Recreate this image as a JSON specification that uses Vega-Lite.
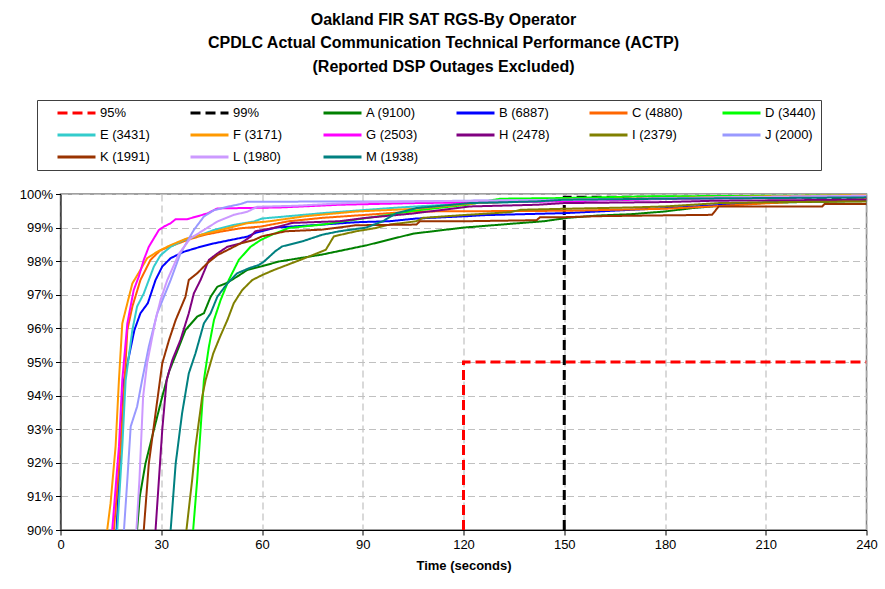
{
"$schema": "https://vega.github.io/schema/vega-lite/v6.json",
"width": 806, "height": 336,
"autosize": {"type": "none"},
"padding": {"left": 60.5, "top": 194, "right": 18.5, "bottom": 59},
"background": "white",
"title": {"text": ["Oakland FIR SAT RGS-By Operator", "CPDLC Actual Communication Technical Performance (ACTP)", "(Reported DSP Outages Excluded)"], "font": "Liberation Sans", "fontSize": 16, "fontWeight": "bold", "lineHeight": 23.5, "anchor": "middle", "dx": -20, "offset": 25, "color": "black"},
"config": {
  "view": {"stroke": "#808080", "strokeWidth": 1.5},
  "font": "Liberation Sans",
  "legend": {"orient": "none", "legendX": -23.5, "legendY": -94, "direction": "horizontal", "columns": 6, "title": null, "symbolType": "stroke", "symbolSize": 1444, "symbolStrokeWidth": 3, "symbolOffset": 14, "clipHeight": 16, "labelFont": "Liberation Sans", "labelFontSize": 13, "labelColor": "black", "labelOffset": 3, "columnPadding": 22, "rowPadding": 6, "padding": 5, "strokeColor": "#404040", "fillColor": "white", "labelLimit": 200, "gridAlign": "all"}
},
"datasets": {"d": [
{"s":"95%","t":120,"p":90},{"s":"95%","t":120,"p":95},{"s":"95%","t":240,"p":95},
{"s":"99%","t":150,"p":90},{"s":"99%","t":150,"p":99.9},{"s":"99%","t":240,"p":99.9},
{"s":"A (9100)","t":22.8,"p":90},{"s":"A (9100)","t":23.6,"p":90.99},{"s":"A (9100)","t":25.3,"p":91.98},{"s":"A (9100)","t":27.8,"p":92.98},{"s":"A (9100)","t":30.3,"p":93.97},{"s":"A (9100)","t":32.3,"p":94.71},{"s":"A (9100)","t":35.3,"p":95.46},{"s":"A (9100)","t":37.2,"p":95.95},{"s":"A (9100)","t":40.7,"p":96.35},{"s":"A (9100)","t":42.7,"p":96.45},{"s":"A (9100)","t":44.7,"p":96.94},{"s":"A (9100)","t":46.7,"p":97.24},{"s":"A (9100)","t":49.2,"p":97.34},{"s":"A (9100)","t":52.6,"p":97.54},{"s":"A (9100)","t":55.6,"p":97.74},{"s":"A (9100)","t":59.6,"p":97.84},{"s":"A (9100)","t":65,"p":97.99},{"s":"A (9100)","t":78,"p":98.2},{"s":"A (9100)","t":91,"p":98.47},{"s":"A (9100)","t":105,"p":98.82},{"s":"A (9100)","t":120,"p":99.0},{"s":"A (9100)","t":135,"p":99.12},{"s":"A (9100)","t":144,"p":99.19},{"s":"A (9100)","t":151,"p":99.29},{"s":"A (9100)","t":160,"p":99.36},{"s":"A (9100)","t":170,"p":99.4},{"s":"A (9100)","t":180,"p":99.48},{"s":"A (9100)","t":188,"p":99.58},{"s":"A (9100)","t":194,"p":99.63},{"s":"A (9100)","t":205,"p":99.72},{"s":"A (9100)","t":220,"p":99.76},{"s":"A (9100)","t":240,"p":99.79},
{"s":"B (6887)","t":16.7,"p":90},{"s":"B (6887)","t":17.9,"p":92.48},{"s":"B (6887)","t":18.9,"p":94.46},{"s":"B (6887)","t":22,"p":95.95},{"s":"B (6887)","t":23.8,"p":96.45},{"s":"B (6887)","t":26,"p":96.75},{"s":"B (6887)","t":28.3,"p":97.44},{"s":"B (6887)","t":30.3,"p":97.84},{"s":"B (6887)","t":32.8,"p":98.09},{"s":"B (6887)","t":36.7,"p":98.28},{"s":"B (6887)","t":41.7,"p":98.43},{"s":"B (6887)","t":45.7,"p":98.53},{"s":"B (6887)","t":50.6,"p":98.63},{"s":"B (6887)","t":55.6,"p":98.73},{"s":"B (6887)","t":58,"p":98.84},{"s":"B (6887)","t":64,"p":99.0},{"s":"B (6887)","t":78,"p":99.09},{"s":"B (6887)","t":88,"p":99.16},{"s":"B (6887)","t":98,"p":99.19},{"s":"B (6887)","t":106,"p":99.27},{"s":"B (6887)","t":121,"p":99.34},{"s":"B (6887)","t":126,"p":99.37},{"s":"B (6887)","t":150,"p":99.43},{"s":"B (6887)","t":180,"p":99.58},{"s":"B (6887)","t":210,"p":99.75},{"s":"B (6887)","t":240,"p":99.85},
{"s":"C (4880)","t":15.9,"p":90},{"s":"C (4880)","t":17.9,"p":92.48},{"s":"C (4880)","t":19.1,"p":94.46},{"s":"C (4880)","t":19.9,"p":95.95},{"s":"C (4880)","t":21.4,"p":96.65},{"s":"C (4880)","t":23.8,"p":97.44},{"s":"C (4880)","t":26.8,"p":98.04},{"s":"C (4880)","t":29.8,"p":98.33},{"s":"C (4880)","t":33.8,"p":98.48},{"s":"C (4880)","t":37.7,"p":98.63},{"s":"C (4880)","t":42.7,"p":98.78},{"s":"C (4880)","t":47.7,"p":98.88},{"s":"C (4880)","t":53.6,"p":98.98},{"s":"C (4880)","t":59.6,"p":99.03},{"s":"C (4880)","t":68,"p":99.19},{"s":"C (4880)","t":78,"p":99.29},{"s":"C (4880)","t":91,"p":99.38},{"s":"C (4880)","t":105,"p":99.48},{"s":"C (4880)","t":150,"p":99.5},{"s":"C (4880)","t":165,"p":99.53},{"s":"C (4880)","t":180,"p":99.56},{"s":"C (4880)","t":194,"p":99.63},{"s":"C (4880)","t":215,"p":99.75},{"s":"C (4880)","t":240,"p":99.85},
{"s":"D (3440)","t":39.5,"p":90},{"s":"D (3440)","t":40.7,"p":91.49},{"s":"D (3440)","t":41.7,"p":92.98},{"s":"D (3440)","t":42.7,"p":94.46},{"s":"D (3440)","t":44.2,"p":95.46},{"s":"D (3440)","t":45.7,"p":96.25},{"s":"D (3440)","t":47.7,"p":96.85},{"s":"D (3440)","t":50.1,"p":97.44},{"s":"D (3440)","t":53.1,"p":98.04},{"s":"D (3440)","t":56.6,"p":98.43},{"s":"D (3440)","t":59.6,"p":98.63},{"s":"D (3440)","t":63,"p":98.79},{"s":"D (3440)","t":68,"p":98.99},{"s":"D (3440)","t":78,"p":99.09},{"s":"D (3440)","t":88,"p":99.24},{"s":"D (3440)","t":98,"p":99.38},{"s":"D (3440)","t":105,"p":99.5},{"s":"D (3440)","t":121,"p":99.68},{"s":"D (3440)","t":131,"p":99.86},{"s":"D (3440)","t":150,"p":99.88},{"s":"D (3440)","t":175,"p":99.93},{"s":"D (3440)","t":240,"p":99.96},
{"s":"E (3431)","t":16.9,"p":90},{"s":"E (3431)","t":18.4,"p":92.48},{"s":"E (3431)","t":19.4,"p":94.46},{"s":"E (3431)","t":21.4,"p":95.95},{"s":"E (3431)","t":22.8,"p":96.65},{"s":"E (3431)","t":24.8,"p":97.04},{"s":"E (3431)","t":27.8,"p":97.84},{"s":"E (3431)","t":29.8,"p":98.18},{"s":"E (3431)","t":32.8,"p":98.43},{"s":"E (3431)","t":36.7,"p":98.63},{"s":"E (3431)","t":41.7,"p":98.78},{"s":"E (3431)","t":45.7,"p":98.93},{"s":"E (3431)","t":51.6,"p":99.08},{"s":"E (3431)","t":57.6,"p":99.18},{"s":"E (3431)","t":60,"p":99.27},{"s":"E (3431)","t":78,"p":99.43},{"s":"E (3431)","t":98,"p":99.58},{"s":"E (3431)","t":106,"p":99.63},{"s":"E (3431)","t":124,"p":99.73},{"s":"E (3431)","t":150,"p":99.8},{"s":"E (3431)","t":200,"p":99.9},{"s":"E (3431)","t":240,"p":99.97},
{"s":"F (3171)","t":13.9,"p":90},{"s":"F (3171)","t":14.9,"p":90.79},{"s":"F (3171)","t":16.4,"p":92.48},{"s":"F (3171)","t":17.4,"p":94.46},{"s":"F (3171)","t":18.4,"p":96.15},{"s":"F (3171)","t":19.4,"p":96.55},{"s":"F (3171)","t":21.4,"p":97.34},{"s":"F (3171)","t":23.8,"p":97.74},{"s":"F (3171)","t":25.8,"p":98.09},{"s":"F (3171)","t":28.8,"p":98.28},{"s":"F (3171)","t":32.8,"p":98.48},{"s":"F (3171)","t":37.7,"p":98.68},{"s":"F (3171)","t":43.7,"p":98.83},{"s":"F (3171)","t":49.7,"p":98.98},{"s":"F (3171)","t":55.6,"p":99.13},{"s":"F (3171)","t":61.6,"p":99.18},{"s":"F (3171)","t":73,"p":99.34},{"s":"F (3171)","t":88,"p":99.48},{"s":"F (3171)","t":106,"p":99.56},{"s":"F (3171)","t":124,"p":99.73},{"s":"F (3171)","t":150,"p":99.83},{"s":"F (3171)","t":180,"p":99.88},{"s":"F (3171)","t":210,"p":99.93},{"s":"F (3171)","t":240,"p":99.97},
{"s":"G (2503)","t":15.4,"p":90},{"s":"G (2503)","t":17.4,"p":92.48},{"s":"G (2503)","t":18.4,"p":94.46},{"s":"G (2503)","t":19.9,"p":96.15},{"s":"G (2503)","t":21.8,"p":97.14},{"s":"G (2503)","t":23.3,"p":97.54},{"s":"G (2503)","t":24.8,"p":98.04},{"s":"G (2503)","t":26.3,"p":98.43},{"s":"G (2503)","t":29.3,"p":98.93},{"s":"G (2503)","t":30.8,"p":99.03},{"s":"G (2503)","t":32.8,"p":99.13},{"s":"G (2503)","t":34.3,"p":99.25},{"s":"G (2503)","t":37.7,"p":99.25},{"s":"G (2503)","t":43.7,"p":99.42},{"s":"G (2503)","t":46.7,"p":99.57},{"s":"G (2503)","t":65.5,"p":99.6},{"s":"G (2503)","t":83,"p":99.68},{"s":"G (2503)","t":106,"p":99.73},{"s":"G (2503)","t":150,"p":99.78},{"s":"G (2503)","t":180,"p":99.85},{"s":"G (2503)","t":240,"p":99.92},
{"s":"H (2478)","t":28.3,"p":90},{"s":"H (2478)","t":29.3,"p":91.49},{"s":"H (2478)","t":30.3,"p":92.98},{"s":"H (2478)","t":31.6,"p":94.46},{"s":"H (2478)","t":33.3,"p":95.06},{"s":"H (2478)","t":35.7,"p":95.65},{"s":"H (2478)","t":38.2,"p":96.45},{"s":"H (2478)","t":39.7,"p":97.04},{"s":"H (2478)","t":41.7,"p":97.44},{"s":"H (2478)","t":44.2,"p":98.04},{"s":"H (2478)","t":46.7,"p":98.23},{"s":"H (2478)","t":49.7,"p":98.43},{"s":"H (2478)","t":53.6,"p":98.53},{"s":"H (2478)","t":56.6,"p":98.73},{"s":"H (2478)","t":58,"p":98.89},{"s":"H (2478)","t":64,"p":99.0},{"s":"H (2478)","t":69,"p":99.14},{"s":"H (2478)","t":83,"p":99.19},{"s":"H (2478)","t":91,"p":99.29},{"s":"H (2478)","t":105,"p":99.42},{"s":"H (2478)","t":122,"p":99.63},{"s":"H (2478)","t":142,"p":99.68},{"s":"H (2478)","t":150,"p":99.73},{"s":"H (2478)","t":180,"p":99.76},{"s":"H (2478)","t":195,"p":99.8},{"s":"H (2478)","t":240,"p":99.83},
{"s":"I (2379)","t":37.5,"p":90},{"s":"I (2379)","t":39.2,"p":91.49},{"s":"I (2379)","t":40.2,"p":92.48},{"s":"I (2379)","t":42.2,"p":93.97},{"s":"I (2379)","t":43.2,"p":94.46},{"s":"I (2379)","t":45.5,"p":95.26},{"s":"I (2379)","t":47.5,"p":95.75},{"s":"I (2379)","t":49.7,"p":96.25},{"s":"I (2379)","t":51.6,"p":96.75},{"s":"I (2379)","t":54.1,"p":97.14},{"s":"I (2379)","t":57.1,"p":97.44},{"s":"I (2379)","t":60.1,"p":97.59},{"s":"I (2379)","t":63.6,"p":97.74},{"s":"I (2379)","t":73,"p":98.1},{"s":"I (2379)","t":79,"p":98.34},{"s":"I (2379)","t":81.4,"p":98.74},{"s":"I (2379)","t":88,"p":98.89},{"s":"I (2379)","t":94,"p":98.99},{"s":"I (2379)","t":98,"p":99.09},{"s":"I (2379)","t":106,"p":99.19},{"s":"I (2379)","t":108,"p":99.29},{"s":"I (2379)","t":121,"p":99.38},{"s":"I (2379)","t":134,"p":99.46},{"s":"I (2379)","t":137,"p":99.53},{"s":"I (2379)","t":150,"p":99.56},{"s":"I (2379)","t":170,"p":99.6},{"s":"I (2379)","t":180,"p":99.63},{"s":"I (2379)","t":196,"p":99.73},{"s":"I (2379)","t":215,"p":99.76},{"s":"I (2379)","t":240,"p":99.78},
{"s":"J (2000)","t":18.9,"p":90},{"s":"J (2000)","t":19.9,"p":91.49},{"s":"J (2000)","t":20.9,"p":93.08},{"s":"J (2000)","t":22.8,"p":93.67},{"s":"J (2000)","t":24.3,"p":94.46},{"s":"J (2000)","t":26.3,"p":95.46},{"s":"J (2000)","t":28.8,"p":96.45},{"s":"J (2000)","t":32.8,"p":97.44},{"s":"J (2000)","t":35.7,"p":98.23},{"s":"J (2000)","t":39.7,"p":98.93},{"s":"J (2000)","t":42.7,"p":99.33},{"s":"J (2000)","t":45.7,"p":99.52},{"s":"J (2000)","t":49.7,"p":99.62},{"s":"J (2000)","t":53.6,"p":99.7},{"s":"J (2000)","t":55.6,"p":99.77},{"s":"J (2000)","t":105,"p":99.78},{"s":"J (2000)","t":120,"p":99.8},{"s":"J (2000)","t":150,"p":99.83},{"s":"J (2000)","t":200,"p":99.9},{"s":"J (2000)","t":240,"p":99.95},
{"s":"K (1991)","t":24.8,"p":90},{"s":"K (1991)","t":26.3,"p":91.98},{"s":"K (1991)","t":28.3,"p":93.47},{"s":"K (1991)","t":30.3,"p":94.96},{"s":"K (1991)","t":32.3,"p":95.65},{"s":"K (1991)","t":34.3,"p":96.25},{"s":"K (1991)","t":37.2,"p":96.94},{"s":"K (1991)","t":38.2,"p":97.44},{"s":"K (1991)","t":40.7,"p":97.64},{"s":"K (1991)","t":43.7,"p":97.94},{"s":"K (1991)","t":46.7,"p":98.18},{"s":"K (1991)","t":49.7,"p":98.33},{"s":"K (1991)","t":53.6,"p":98.53},{"s":"K (1991)","t":57.6,"p":98.63},{"s":"K (1991)","t":60,"p":98.74},{"s":"K (1991)","t":67,"p":98.89},{"s":"K (1991)","t":78,"p":98.94},{"s":"K (1991)","t":88,"p":99.07},{"s":"K (1991)","t":106,"p":99.09},{"s":"K (1991)","t":107,"p":99.19},{"s":"K (1991)","t":121,"p":99.19},{"s":"K (1991)","t":141.8,"p":99.22},{"s":"K (1991)","t":142.8,"p":99.31},{"s":"K (1991)","t":150,"p":99.31},{"s":"K (1991)","t":160,"p":99.34},{"s":"K (1991)","t":176,"p":99.36},{"s":"K (1991)","t":194,"p":99.38},{"s":"K (1991)","t":196,"p":99.63},{"s":"K (1991)","t":226.8,"p":99.63},{"s":"K (1991)","t":227.5,"p":99.7},{"s":"K (1991)","t":240,"p":99.7},
{"s":"L (1980)","t":22.6,"p":90},{"s":"L (1980)","t":23.5,"p":91.49},{"s":"L (1980)","t":24.6,"p":93.97},{"s":"L (1980)","t":25.8,"p":94.96},{"s":"L (1980)","t":28.3,"p":96.25},{"s":"L (1980)","t":29.8,"p":96.85},{"s":"L (1980)","t":31.8,"p":97.44},{"s":"L (1980)","t":35.3,"p":98.23},{"s":"L (1980)","t":38.7,"p":98.68},{"s":"L (1980)","t":42.7,"p":98.93},{"s":"L (1980)","t":46.7,"p":99.18},{"s":"L (1980)","t":51.6,"p":99.38},{"s":"L (1980)","t":55.6,"p":99.47},{"s":"L (1980)","t":58.6,"p":99.62},{"s":"L (1980)","t":70,"p":99.65},{"s":"L (1980)","t":91,"p":99.76},{"s":"L (1980)","t":105,"p":99.78},{"s":"L (1980)","t":150,"p":99.82},{"s":"L (1980)","t":200,"p":99.9},{"s":"L (1980)","t":240,"p":99.95},
{"s":"M (1938)","t":32.8,"p":90},{"s":"M (1938)","t":34.3,"p":91.98},{"s":"M (1938)","t":36.2,"p":93.47},{"s":"M (1938)","t":38.2,"p":94.66},{"s":"M (1938)","t":40.2,"p":95.26},{"s":"M (1938)","t":42.7,"p":96.15},{"s":"M (1938)","t":44.7,"p":96.45},{"s":"M (1938)","t":46.7,"p":96.94},{"s":"M (1938)","t":49.7,"p":97.34},{"s":"M (1938)","t":52.6,"p":97.64},{"s":"M (1938)","t":56.1,"p":97.79},{"s":"M (1938)","t":59.1,"p":97.89},{"s":"M (1938)","t":60.6,"p":97.99},{"s":"M (1938)","t":64,"p":98.3},{"s":"M (1938)","t":66,"p":98.44},{"s":"M (1938)","t":72,"p":98.59},{"s":"M (1938)","t":78,"p":98.79},{"s":"M (1938)","t":83,"p":98.89},{"s":"M (1938)","t":91,"p":99.0},{"s":"M (1938)","t":96,"p":99.19},{"s":"M (1938)","t":100,"p":99.43},{"s":"M (1938)","t":106,"p":99.58},{"s":"M (1938)","t":122,"p":99.73},{"s":"M (1938)","t":142,"p":99.78},{"s":"M (1938)","t":150,"p":99.83},{"s":"M (1938)","t":180,"p":99.86},{"s":"M (1938)","t":240,"p":99.9}
]},
"data": {"name": "d"},
"encoding": {
  "x": {"field": "t", "type": "quantitative", "scale": {"domain": [0, 240], "nice": false}, "axis": {"values": [0, 30, 60, 90, 120, 150, 180, 210, 240], "title": "Time (seconds)", "titleFont": "Liberation Sans", "titleFontSize": 13, "titleFontWeight": "bold", "titleColor": "black", "titlePadding": 8, "labelFont": "Liberation Sans", "labelFontSize": 13, "labelColor": "black", "labelPadding": 3, "labelFlush": false, "domainColor": "black", "tickColor": "black", "tickSize": 5, "grid": true, "gridColor": "#c0c0c0", "gridDash": [7, 4], "gridWidth": 1.2}},
  "y": {"field": "p", "type": "quantitative", "scale": {"domain": [90, 100], "nice": false}, "axis": {"values": [90, 91, 92, 93, 94, 95, 96, 97, 98, 99, 100], "labelExpr": "datum.value + '%'", "title": null, "labelFont": "Liberation Sans", "labelFontSize": 13, "labelColor": "black", "labelPadding": 3, "labelFlush": false, "domainColor": "black", "tickColor": "black", "tickSize": 5, "grid": true, "gridColor": "#c0c0c0", "gridDash": [7, 4], "gridWidth": 1.2}},
  "color": {"field": "s", "type": "nominal", "scale": {"domain": ["95%", "99%", "A (9100)", "B (6887)", "C (4880)", "D (3440)", "E (3431)", "F (3171)", "G (2503)", "H (2478)", "I (2379)", "J (2000)", "K (1991)", "L (1980)", "M (1938)"], "range": ["#ff0000", "#000000", "#008000", "#0000ff", "#ff6600", "#00ff00", "#33cccc", "#ff9900", "#ff00ff", "#800080", "#808000", "#9999ff", "#993300", "#cc99ff", "#008080"]}},
  "strokeDash": {"field": "s", "type": "nominal", "scale": {"domain": ["95%", "99%", "A (9100)", "B (6887)", "C (4880)", "D (3440)", "E (3431)", "F (3171)", "G (2503)", "H (2478)", "I (2379)", "J (2000)", "K (1991)", "L (1980)", "M (1938)"], "range": [[10, 5], [10, 5], [1, 0], [1, 0], [1, 0], [1, 0], [1, 0], [1, 0], [1, 0], [1, 0], [1, 0], [1, 0], [1, 0], [1, 0], [1, 0]]}}
},
"layer": [
  {"transform": [{"filter": "datum.s == '95%' || datum.s == '99%'"}], "mark": {"type": "line", "strokeWidth": 3, "clip": true}},
  {"transform": [{"filter": "datum.s != '95%' && datum.s != '99%'"}], "mark": {"type": "line", "strokeWidth": 2, "clip": true}}
]
}
